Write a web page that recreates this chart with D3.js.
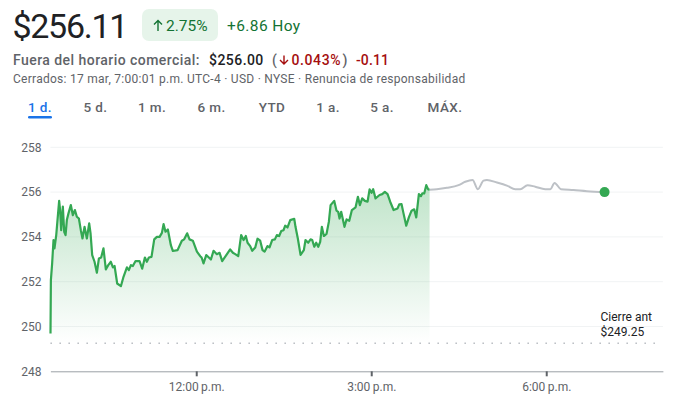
<!DOCTYPE html>
<html>
<head>
<meta charset="utf-8">
<script src="https://cdn.jsdelivr.net/npm/d3@7"></script>
<style>
  html, body { margin: 0; padding: 0; background: #fff; }
  svg { display: block; font-family: Roboto, sans-serif; }
</style>
</head>
<body>
<script>
// Minutes since midnight for the regular session
const sessionTimes = [
  570.1,570.5,571.8,573.2,574.2,576,577.3,579,580,581.1,582.8,584.2,585.6,586.9,588.6,591,593.1,595.2,597.2,599.3,
  601.3,603,605.1,607.5,609.9,611.3,613,615.4,617.8,619.9,622.2,624.6,627,629.5,632.2,634.3,636,638.7,642.5,645.2,
  648.7,650.7,652.8,654.8,657.6,661.7,664.4,667.2,669.2,671.3,674,676.8,679.5,682.3,684.7,686.4,688.4,690.8,693.9,696,
  700.8,705.2,707.6,710.7,713.1,716.5,720.7,724.1,725.5,727.5,730.3,735.1,737.8,741.2,744,746.7,750.2,
  754.9,757.7,760.1,763.2,766.2,768.7,771,772.8,775.5,777.6,780.7,783,785.8,788.2,790.3,793.3,795.4,798.1,800.9,802.9,
  805.3,807.4,809.8,811.5,813.9,816.7,820.8,822.1,824.5,827.3,830.7,832.4,835.2,837.6,839.3,841.4,843.4,845.5,847.5,849.2,
  851.3,854,856.4,858.2,861.9,864.3,866,867.4,869.1,872.5,874.6,877.4,880.1,883.9,886.3,888.3,890.7,893.5,896.2,898.3,
  900.3,902,904.4,908.6,911.3,914,916.8,919.5,923,927.1,928.8,931.2,933.2,936,938.7,941.5,944.2,946.3,949,951.1,
  952.5,954.5,956.6,958.6,960
];
const sessionPrices = [
  249.69,252.07,252.82,253.86,253.49,254.08,254.75,255.61,255.2,254.3,255.35,254.23,254.08,254.75,255.05,255.42,254.97,255.2,254.9,254.82,
  254.3,253.93,254.45,253.93,254.6,254.16,253.19,252.89,252.4,253.04,253.08,253.49,252.55,252.74,252.89,252.64,252.7,251.92,251.8,252.22,
  252.64,252.52,252.74,252.7,252.92,252.92,252.58,253.08,252.89,253.08,253.11,253.89,254,254,254.18,254.57,254.23,254.33,253.63,253.37,
  253.41,253.83,253.89,254.16,253.89,253.83,253.34,253.14,253.08,252.82,253.19,252.99,253.38,253.23,253.29,252.92,253.14,
  253.44,253.29,253.23,253.14,254.08,253.86,254.04,253.74,253.59,253.38,253.53,253.92,253.83,253.41,253.34,253.59,253.53,253.86,253.89,254.08,
  254.04,254.26,254.3,254.5,254.42,254.75,254.81,254.45,253.93,253.2,253.41,253.86,253.74,253.89,253.86,253.56,253.74,253.56,253.78,254.45,
  254.04,254.13,254.67,255.42,255.61,255.17,255.12,254.82,255.12,254.45,254.78,254.72,255.2,255.32,255.79,255.42,255.72,255.61,255.57,256.12,
  255.97,256.13,255.72,255.87,255.91,256.01,255.91,255.57,255.2,255.27,255.45,255.46,255.05,254.5,254.87,255.17,255.23,254.87,255.91,255.82,
  255.94,255.94,256.31,256.12,256.11
];

// After hours part of the day
const afterTimes = [960,967.5,977.8,989.8,996.7,1004.2,1009.7,1015.5,1019,1029.3,1040.2,1048.1,1053.3,1060.8,1068.7,1079,1084.1,1088.6,1095.1,1108.1,1121.8,1140];
const afterPrices = [256.11,256.13,256.19,256.31,256.46,256.54,256.13,256.51,256.54,256.43,256.28,256.13,256.13,256.31,256.24,256.13,256.13,256.41,256.13,256.09,256.04,256];

const previousClose = 249.25;
const priceTicks = [248, 250, 252, 254, 256, 258];
const timeTicks = [720, 900, 1080];
const timeTickLabels = ['12:00\u2009p.m.', '3:00\u2009p.m.', '6:00\u2009p.m.'];
const rangeTabs = ['1 d.', '5 d.', '1 m.', '6 m.', 'YTD', '1 a.', '5 a.', 'MÁX.'];
const rangeTabCenters = [40, 95.5, 152, 211.5, 272, 328, 382, 445];

const width = 683, height = 403;
const green = '#34a853', darkGreen = '#137333', red = '#a50e0e';
const grey = '#5f6368', ink = '#202124';

const svg = d3.select('body').append('svg')
  .attr('width', width)
  .attr('height', height);

// Scales: 9:30 a.m. to 8:00 p.m.
const x = d3.scaleLinear().domain([570, 1200]).range([50.4, 662.9]);
const y = d3.scaleLinear().domain([248, 258]).range([371.3, 147.3]);

const gradient = svg.append('defs').append('linearGradient')
  .attr('id', 'area-fill')
  .attr('gradientUnits', 'userSpaceOnUse')
  .attr('x1', 0).attr('x2', 0)
  .attr('y1', y(256.5)).attr('y2', y(249.25));
gradient.append('stop').attr('offset', 0).attr('stop-color', green).attr('stop-opacity', 0.32);
gradient.append('stop').attr('offset', 1).attr('stop-color', green).attr('stop-opacity', 0);

/* Header */
function addText(tx, ty, text, size, color, weight, spacing) {
  return svg.append('text')
    .attr('x', tx).attr('y', ty)
    .attr('font-size', size)
    .attr('font-weight', weight || 400)
    .attr('letter-spacing', spacing || 0)
    .attr('fill', color)
    .text(text);
}

// Small up / down arrow icon, same shape as the one in the header
function addArrow(cx, top, bottom, color, up) {
  const tip = up ? top : bottom, tail = up ? bottom : top;
  const dir = up ? 1 : -1;
  svg.append('path')
    .attr('d', `M${cx},${tail}L${cx},${tip}M${cx - 4},${tip + 4 * dir}L${cx},${tip}L${cx + 4},${tip + 4 * dir}`)
    .attr('fill', 'none')
    .attr('stroke', color)
    .attr('stroke-width', 1.4);
}

addText(12.5, 38, '$256.11', 34, ink, 400, -1.3);
svg.append('rect')
  .attr('x', 142).attr('y', 9)
  .attr('width', 76).attr('height', 32)
  .attr('rx', 7)
  .attr('fill', '#e6f4ea');
addArrow(158, 20.5, 31, darkGreen, true);
addText(166, 30.5, '2.75%', 15.5, darkGreen);
addText(227, 30.5, '+6.86 Hoy', 15.5, darkGreen, 400, 0.4);

addText(13, 65, 'Fuera del horario comercial:', 14, grey, 500, 0.45);
addText(209, 65, '$256.00', 14, ink, 500, 0.45);
addText(272, 65, '(', 14, grey, 500);
addArrow(284, 55.5, 64, red, false);
addText(291.5, 65, '0.043%', 14, red, 500, 0.6);
addText(342.5, 65, ')', 14, grey, 500);
addText(356, 65, '-0.11', 14, red, 500, 0.1);

addText(13, 83, 'Cerrados: 17 mar, 7:00:01 p.m. UTC-4 · USD · NYSE · Renuncia de responsabilidad', 12, grey, 400, 0.27);

svg.append('g').selectAll('text')
  .data(rangeTabs)
  .join('text')
  .attr('x', (d, i) => rangeTabCenters[i])
  .attr('y', 112)
  .attr('text-anchor', 'middle')
  .attr('font-size', 13.5)
  .attr('font-weight', 500)
  .attr('letter-spacing', 0.4)
  .attr('fill', (d, i) => i === 0 ? '#1a73e8' : grey)
  .text(d => d);
svg.append('rect')
  .attr('x', 28).attr('y', 116)
  .attr('width', 24).attr('height', 2.6)
  .attr('rx', 1.3)
  .attr('fill', '#1a73e8');

/* Grid and axes */
svg.append('g').selectAll('line')
  .data(priceTicks.filter(d => d !== 248))
  .join('line')
  .attr('x1', x.range()[0]).attr('x2', x.range()[1])
  .attr('y1', d => y(d)).attr('y2', d => y(d))
  .attr('stroke', '#f1f3f4')
  .attr('stroke-width', 1);

const yAxis = svg.append('g')
  .attr('transform', `translate(${x.range()[0]},0)`)
  .call(d3.axisLeft(y).tickValues(priceTicks).tickSize(0).tickPadding(9));
yAxis.select('.domain').remove();
yAxis.selectAll('text')
  .attr('font-family', 'Roboto, sans-serif')
  .attr('font-size', 12)
  .attr('fill', grey);

const xAxis = svg.append('g')
  .attr('transform', `translate(0,${y(248)})`)
  .call(d3.axisBottom(x)
    .tickValues(timeTicks)
    .tickFormat((d, i) => timeTickLabels[i])
    .tickSize(5)
    .tickSizeOuter(0)
    .tickPadding(6));
xAxis.select('.domain').attr('stroke', '#9aa0a6').attr('stroke-width', 1);
xAxis.selectAll('line').attr('stroke', grey).attr('stroke-width', 2);
xAxis.selectAll('text')
  .attr('font-family', 'Roboto, sans-serif')
  .attr('font-size', 12)
  .attr('fill', grey);

/* Series */
const session = sessionTimes.map((t, i) => [t, sessionPrices[i]]);
const after = afterTimes.map((t, i) => [t, afterPrices[i]]);

svg.append('path')
  .datum(session)
  .attr('fill', 'url(#area-fill)')
  .attr('d', d3.area().x(d => x(d[0])).y0(y(249.25)).y1(d => y(d[1])));

svg.append('line')
  .attr('x1', x.range()[0]).attr('x2', 658)
  .attr('y1', y(previousClose)).attr('y2', y(previousClose))
  .attr('stroke', '#bdc1c6')
  .attr('stroke-width', 1.6)
  .attr('stroke-dasharray', '1.6 7.4');

svg.append('path')
  .datum(after)
  .attr('fill', 'none')
  .attr('stroke', '#bdc1c6')
  .attr('stroke-width', 2)
  .attr('d', d3.line().x(d => x(d[0])).y(d => y(d[1])).curve(d3.curveMonotoneX));

svg.append('path')
  .datum(session)
  .attr('fill', 'none')
  .attr('stroke', green)
  .attr('stroke-width', 2.2)
  .attr('stroke-linejoin', 'round')
  .attr('d', d3.line().x(d => x(d[0])).y(d => y(d[1])));

svg.append('circle')
  .attr('cx', x(1140)).attr('cy', y(256))
  .attr('r', 5)
  .attr('fill', green);

addText(600.5, 321, 'Cierre ant', 12, ink);
addText(600.5, 336, '$249.25', 12, ink);
</script>
</body>
</html>
